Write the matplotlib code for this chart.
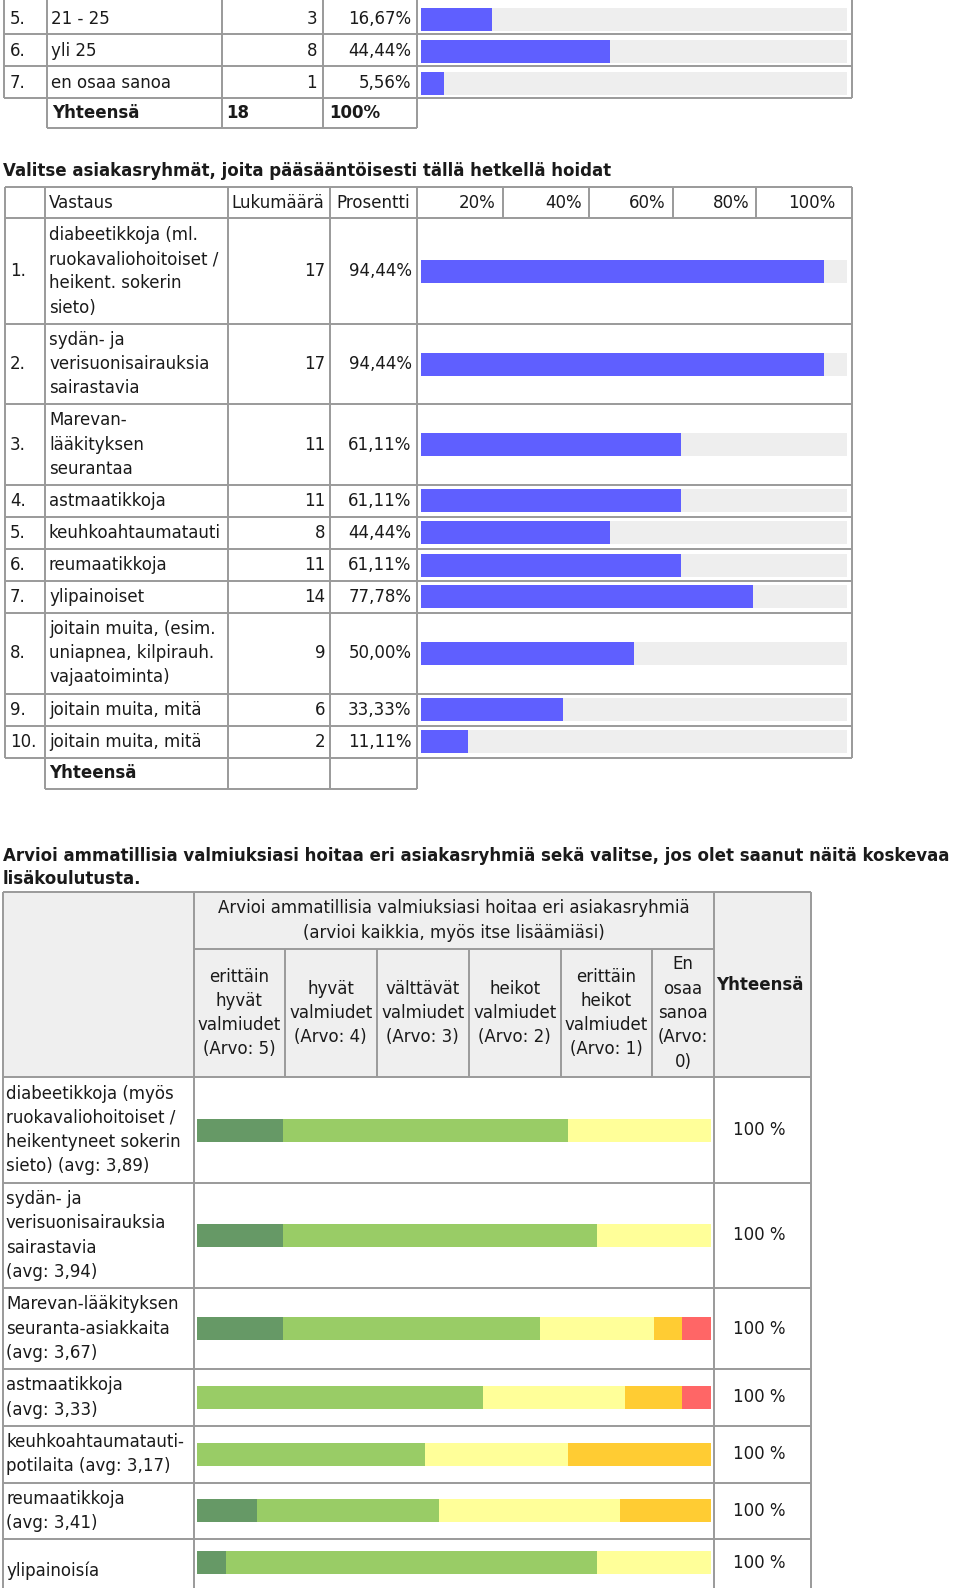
import matplotlib
matplotlib.use('Agg')
import matplotlib.pyplot as plt
import numpy as np

# ---------------- data ----------------
age_nums = ['5.', '6.', '7.']
age_labels = ['21 - 25', 'yli 25', 'en osaa sanoa']
age_counts = [3, 8, 1]
age_total = 18

group_title = 'Valitse asiakasryhmät, joita pääsääntöisesti tällä hetkellä hoidat'
group_nums = ['1.', '2.', '3.', '4.', '5.', '6.', '7.', '8.', '9.', '10.']
group_labels = [
    'diabeetikkoja (ml.\nruokavaliohoitoiset /\nheikent. sokerin\nsieto)',
    'sydän- ja\nverisuonisairauksia\nsairastavia',
    'Marevan-\nlääkityksen\nseurantaa',
    'astmaatikkoja',
    'keuhkoahtaumatauti',
    'reumaatikkoja',
    'ylipainoiset',
    'joitain muita, (esim.\nuniapnea, kilpirauh.\nvajaatoiminta)',
    'joitain muita, mitä',
    'joitain muita, mitä',
]
group_counts = [17, 17, 11, 11, 8, 11, 14, 9, 6, 2]
group_respondents = 18
scale_ticks = ['20%', '40%', '60%', '80%', '100%']

skill_title = ('Arvioi ammatillisia valmiuksiasi hoitaa eri asiakasryhmiä sekä valitse, '
               'jos olet saanut näitä koskevaa\nlisäkoulutusta.')
skill_header = 'Arvioi ammatillisia valmiuksiasi hoitaa eri asiakasryhmiä\n(arvioi kaikkia, myös itse lisäämiäsi)'
skill_levels = [
    'erittäin\nhyvät\nvalmiudet\n(Arvo: 5)',
    'hyvät\nvalmiudet\n(Arvo: 4)',
    'välttävät\nvalmiudet\n(Arvo: 3)',
    'heikot\nvalmiudet\n(Arvo: 2)',
    'erittäin\nheikot\nvalmiudet\n(Arvo: 1)',
    'En\nosaa\nsanoa\n(Arvo:\n0)',
]
skill_colors = ['#669966', '#99cc66', '#ffff99', '#ffcc33', '#ff6666', '#cccccc']
skill_groups = [
    'diabeetikkoja (myös\nruokavaliohoitoiset /\nheikentyneet sokerin\nsieto) (avg: 3,89)',
    'sydän- ja\nverisuonisairauksia\nsairastavia\n(avg: 3,94)',
    'Marevan-lääkityksen\nseuranta-asiakkaita\n(avg: 3,67)',
    'astmaatikkoja\n(avg: 3,33)',
    'keuhkoahtaumatauti-\npotilaita (avg: 3,17)',
    'reumaatikkoja\n(avg: 3,41)',
    'ylipainoisía',
]
skill_counts = [
    [3, 10, 5, 0, 0, 0],
    [3, 11, 4, 0, 0, 0],
    [3, 9, 4, 1, 1, 0],
    [0, 10, 5, 2, 1, 0],
    [0, 8, 5, 5, 0, 0],
    [2, 6, 6, 3, 0, 0],
    [1, 13, 4, 0, 0, 0],
]

# ---------------- style / layout ----------------
W, H = 960, 1588
BC = '#9a9a9a'
LW = 1.4
FS = 12
TFS = 12
LH = 24.3
TXT = '#1a1a1a'
BLUE = '#5f5fff'
TRACK = '#eeeeee'
HEADBG = '#efefef'
FONT = 'DejaVu Sans'

fig = plt.figure(figsize=(W / 100, H / 100), dpi=100)
ax = fig.add_axes([0, 0, 1, 1])
ax.set_xlim(0, W)
ax.set_ylim(H, 0)
ax.axis('off')


def hline(y, x0, x1):
    ax.plot([x0, x1], [y, y], color=BC, lw=LW, solid_capstyle='butt', zorder=3)


def vline(x, y0, y1):
    ax.plot([x, x], [y0, y1], color=BC, lw=LW, solid_capstyle='butt', zorder=3)


def txt(x, y, s, ha='left', bold=False, size=FS, lh=LH, color=TXT):
    lines = s.split('\n')
    n = len(lines)
    for i, line in enumerate(lines):
        yy = y + (i - (n - 1) / 2) * lh
        ax.text(x, yy, line, ha=ha, va='center', fontsize=size, family=FONT,
                fontweight='bold' if bold else 'normal', color=color, zorder=4)


def fmt_pct(v):
    return f'{v:.2f}'.replace('.', ',') + '%'


def col_axes(x0, x1):
    a = fig.add_axes([x0 / W, 0, (x1 - x0) / W, 1])
    a.set_xlim(0, 100)
    a.set_ylim(H, 0)
    a.axis('off')
    a.patch.set_alpha(0)
    return a


# ---------------- table 1 (tail) ----------------
t1_cols = [4, 46.7, 221.7, 322.7, 416.7, 851.7]
t1_rows = [2, 34, 66, 98.3]
t1_tot_bottom = 128.3
for y in t1_rows[1:]:
    hline(y, t1_cols[0], t1_cols[-1])
hline(t1_tot_bottom, t1_cols[1], t1_cols[4])
vline(t1_cols[0], 0, t1_rows[-1])
vline(t1_cols[-1], 0, t1_rows[-1])
for x in t1_cols[1:5]:
    vline(x, 0, t1_tot_bottom)

bar_x0, bar_x1 = 420.7, 847.3
bax = col_axes(bar_x0, bar_x1)
BAR_H = 23

age_pcts = [c / age_total * 100 for c in age_counts]
age_centers = [(t1_rows[i] + t1_rows[i + 1]) / 2 + 1 for i in range(len(age_counts))]
for yc, num, lab, cnt, p in zip(age_centers, age_nums, age_labels, age_counts, age_pcts):
    txt(10, yc, num)
    txt(51, yc, lab)
    txt(317, yc, str(cnt), ha='right')
    txt(411, yc, fmt_pct(p), ha='right')
bax.barh(age_centers, [100] * len(age_centers), height=BAR_H, color=TRACK)
bax.barh(age_centers, age_pcts, height=BAR_H, color=BLUE)
tot_y = (t1_rows[-1] + t1_tot_bottom) / 2
txt(52, tot_y, 'Yhteensä', bold=True)
txt(226, tot_y, str(age_total), bold=True)
txt(329, tot_y, '100%', bold=True)

# ---------------- table 2 ----------------
ax.text(3, 171, group_title, ha='left', va='center', fontsize=TFS, family=FONT,
        fontweight='bold', color=TXT)

t2_cols = [5, 45, 227.7, 330, 416.7, 851.7]
t2_head_seps = [502.7, 589, 672.7, 756]
t2_rows = [186.7, 218.3, 324, 404, 485, 516.7, 549, 581, 612.7, 693.7, 726, 757.7]
t2_tot_bottom = 789
for y in t2_rows:
    hline(y, t2_cols[0], t2_cols[-1])
hline(t2_tot_bottom, t2_cols[1], t2_cols[4])
vline(t2_cols[0], t2_rows[0], t2_rows[-1])
vline(t2_cols[-1], t2_rows[0], t2_rows[-1])
for x in t2_cols[1:5]:
    vline(x, t2_rows[0], t2_tot_bottom)
for x in t2_head_seps:
    vline(x, t2_rows[0], t2_rows[1])

hy = (t2_rows[0] + t2_rows[1]) / 2
txt(49, hy, 'Vastaus')
txt(231, hy, 'Lukumäärä')
txt(336, hy, 'Prosentti')
for lab, xr in zip(scale_ticks, t2_head_seps + [t2_cols[-1]]):
    txt(xr - 7 if lab != '100%' else xr - 16, hy, lab, ha='right')

g_pcts = [c / group_respondents * 100 for c in group_counts]
g_centers = [(t2_rows[i + 1] + t2_rows[i + 2]) / 2 for i in range(len(group_counts))]
for yc, num, lab, cnt, p in zip(g_centers, group_nums, group_labels, group_counts, g_pcts):
    txt(10, yc, num)
    txt(49, yc, lab)
    txt(325, yc, str(cnt), ha='right')
    txt(411.5, yc, fmt_pct(p), ha='right')
bax.barh(g_centers, [100] * len(g_centers), height=BAR_H, color=TRACK)
bax.barh(g_centers, g_pcts, height=BAR_H, color=BLUE)
txt(49, (t2_rows[-1] + t2_tot_bottom) / 2, 'Yhteensä', bold=True)

# ---------------- table 3 ----------------
tl = skill_title.split('\n')
ax.text(3, 856, tl[0], ha='left', va='center', fontsize=TFS, family=FONT,
        fontweight='bold', color=TXT)
ax.text(3, 879, tl[1], ha='left', va='center', fontsize=TFS, family=FONT,
        fontweight='bold', color=TXT)

t3_left, t3_c1, t3_c2, t3_right = 3, 193.8, 713.8, 811
t3_sub = [193.8, 285, 376.6, 469, 560.6, 652.3, 713.8]
t3_top, t3_mid, t3_head = 892, 949, 1077
t3_rows = [1077, 1183, 1288, 1369, 1426, 1482.5, 1539, 1586]

ax.add_patch(plt.Rectangle((t3_left, t3_top), t3_right - t3_left, t3_head - t3_top,
                           facecolor=HEADBG, edgecolor='none', zorder=1))
hline(t3_top, t3_left, t3_right)
hline(t3_mid, t3_c1, t3_c2)
for y in t3_rows[:-1]:
    hline(y, t3_left, t3_right)
for x in [t3_left, t3_c1, t3_c2, t3_right]:
    vline(x, t3_top, H)
for x in t3_sub[1:-1]:
    vline(x, t3_mid, t3_head)

txt((t3_c1 + t3_c2) / 2, (t3_top + t3_mid) / 2, skill_header, ha='center')
sub_mid = (t3_mid + t3_head) / 2
for i, lab in enumerate(skill_levels):
    txt((t3_sub[i] + t3_sub[i + 1]) / 2, sub_mid, lab, ha='center')
txt(760, 985, 'Yhteensä', ha='center', bold=True)

sax = col_axes(197, 711)
counts = np.array(skill_counts, dtype=float)
shares = counts / counts.sum(axis=1, keepdims=True) * 100
lefts = np.cumsum(shares, axis=1) - shares
s_centers = [(t3_rows[i] + t3_rows[i + 1]) / 2 for i in range(len(skill_groups))]
label_dy = [0, 0, 0, 0, 0, 0, 8.5]
for j in range(shares.shape[1]):
    sax.barh(s_centers, shares[:, j], left=lefts[:, j], height=BAR_H,
             color=skill_colors[j], linewidth=0)
for yc, dy, lab in zip(s_centers, label_dy, skill_groups):
    txt(6, yc + dy, lab)
    txt(759, yc, '100 %', ha='center')

fig.savefig('out.png', dpi=100)
